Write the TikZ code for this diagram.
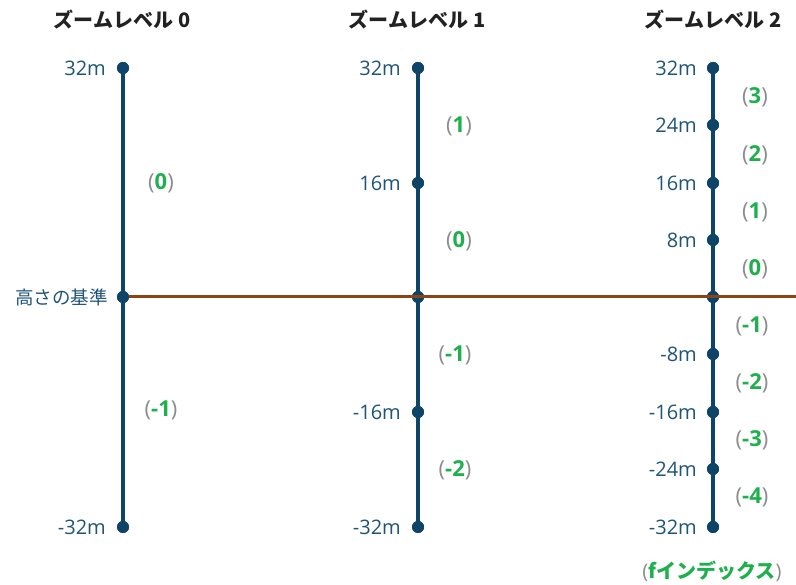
\documentclass[tikz,border=0pt]{standalone}
\usepackage{fontspec}
\setmainfont{Open Sans}
\newfontfamily\jp{Noto Sans CJK JP}
\definecolor{axisc}{HTML}{0E4468}
\definecolor{tickc}{HTML}{1E5478}
\definecolor{basec}{HTML}{8B4513}
\definecolor{greenc}{HTML}{1DB04C}
\definecolor{grayc}{HTML}{8C8C8C}
\definecolor{titlec}{HTML}{222222}
\tikzset{
  dot/.style={circle,fill=axisc,inner sep=0pt,minimum size=12pt},
  axis/.style={draw=axisc,line width=3.2pt},
  baseline/.style={draw=basec,line width=3pt},
  tick/.style={anchor=east,text=tickc,font=\fontsize{20}{24}\selectfont,inner sep=0pt},
  idx/.style={font=\fontsize{22}{26}\selectfont,inner sep=0pt},
  title/.style={text=titlec,font=\jp\bfseries\fontsize{20}{24}\selectfont,inner sep=0pt},
}
\newcommand{\ix}[1]{{\color{grayc}(}{\color{greenc}\bfseries #1}{\color{grayc})}}
\begin{document}
\begin{tikzpicture}[x=1pt,y=-1pt]
\useasboundingbox (0,0) rectangle (796,585);
% titles
\node[title] (t0) at (122,20) {ズームレベル\hspace{0.25em}0};
\node[title] (t1) at (417,20) {ズームレベル\hspace{0.25em}1};
\node[title] (t2) at (713,20) {ズームレベル\hspace{0.25em}2};
% level 0
\node[dot] (a0) at (123,68) {};
\node[dot] (a4) at (123,297) {};
\node[dot] (a8) at (123,527) {};
\draw[axis] (a0.center) -- (a8.center);
% level 1
\node[dot] (b0) at (418,68) {};
\node[dot] (b2) at (418,183) {};
\node[dot] (b4) at (418,297) {};
\node[dot] (b6) at (418,412) {};
\node[dot] (b8) at (418,527) {};
\draw[axis] (b0.center) -- (b8.center);
% level 2
\foreach \i/\y in {0/68,1/125,2/183,3/240,4/297,5/354,6/412,7/469,8/527}{
  \node[dot] (c\i) at (713,\y) {};
}
\draw[axis] (c0.center) -- (c8.center);
% redraw dots over the axes
\foreach \n in {a0,a4,a8,b0,b2,b4,b6,b8,c0,c1,c2,c3,c5,c6,c7,c8}{
  \fill[axisc] (\n.center) circle (6pt);
}
% base line
\coordinate (rend) at (796,297);
\draw[baseline] (a4.east) -- (rend);
\fill[axisc] (c4.center) circle (6pt);
\draw[basec,line width=3pt] (c4.west) -- (c4.east);
% tick labels
\node[tick] (la0) at (106,68) {32m};
\node[tick] (la8) at (106,527) {-32m};
\node[anchor=east,text=tickc,font=\jp\fontsize{18.5}{22}\selectfont,inner sep=0pt] (base) at (108,297) {高さの基準};
\node[tick] (lb0) at (401,68) {32m};
\node[tick] (lb2) at (401,183) {16m};
\node[tick] (lb6) at (401,412) {-16m};
\node[tick] (lb8) at (401,527) {-32m};
\node[tick] (lc0) at (697,68) {32m};
\node[tick] (lc1) at (697,125) {24m};
\node[tick] (lc2) at (697,183) {16m};
\node[tick] (lc3) at (697,240) {8m};
\node[tick] (lc5) at (697,354) {-8m};
\node[tick] (lc6) at (697,412) {-16m};
\node[tick] (lc7) at (697,469) {-24m};
\node[tick] (lc8) at (697,527) {-32m};
% index labels
\node[idx] (ia1) at (161,183) {\ix{0}};
\node[idx] (ia2) at (161,410) {\ix{-1}};
\node[idx] (ib1) at (459,126) {\ix{1}};
\node[idx] (ib2) at (459,241) {\ix{0}};
\node[idx] (ib3) at (455,355) {\ix{-1}};
\node[idx] (ib4) at (455,470) {\ix{-2}};
\node[idx] (ic1) at (755,97) {\ix{3}};
\node[idx] (ic2) at (755,155) {\ix{2}};
\node[idx] (ic3) at (755,212) {\ix{1}};
\node[idx] (ic4) at (755,269) {\ix{0}};
\node[idx] (ic5) at (752,326) {\ix{-1}};
\node[idx] (ic6) at (752,383) {\ix{-2}};
\node[idx] (ic7) at (752,440) {\ix{-3}};
\node[idx] (ic8) at (752,497) {\ix{-4}};
\node[font=\fontsize{20}{24}\selectfont,inner sep=0pt] (fidx) at (712,571) {{\color{grayc}(}{\color{greenc}\jp\bfseries fインデックス}{\color{grayc})}};
\end{tikzpicture}
\end{document}
